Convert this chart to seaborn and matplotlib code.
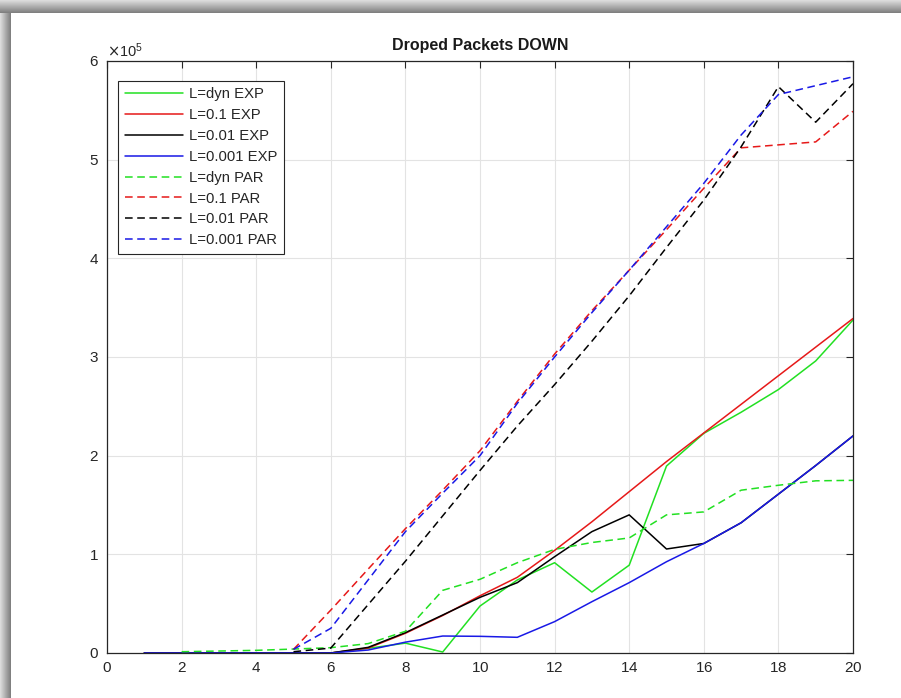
import numpy as np
import pandas as pd
import matplotlib
matplotlib.use("Agg")
import matplotlib.pyplot as plt
from matplotlib.patches import Rectangle
import seaborn as sns

# ---------------- data ----------------
x_exp = list(range(1, 21))
green_exp = [0, 0, 0, 0, 0, 0, 4700, 10000, 1000, 47600, 74000, 91500, 61800, 89000,
             189500, 222600, 244000, 267000, 296000, 337500]
red_exp = [0, 0, 0, 0, 0, 0, 5000, 20000, 38000, 58000, 76700, 104000, 133000, 163500,
           194000, 223000, 252000, 281000, 310000, 339000]
black_exp = [0, 0, 0, 0, 0, 0, 5700, 20600, 38500, 56400, 71300, 97600, 123000, 140000,
             105400, 111000, 132000, 161000, 190000, 220000]
blue_exp = [0, 0, 0, 0, 0, 0, 3000, 11000, 17200, 16900, 15900, 31800, 52000, 71300,
            92500, 111000, 132000, 161000, 190000, 220000]

x_green_par = list(range(2, 21))
green_par = [1300, 2000, 2700, 4000, 5400, 9500, 22000, 63500, 74700, 91500, 105000,
             112000, 116600, 140000, 143000, 165000, 170000, 174500, 175000]
x_par = list(range(5, 21))
red_par = [3700, 43500, 85000, 126000, 165000, 205000, 255000, 303000, 347000, 388000,
           429000, 471000, 512000, 515000, 518000, 549000]
black_par = [1300, 5000, 49000, 93000, 139000, 185000, 230000, 272000, 316000, 362000,
             411000, 459000, 513000, 574000, 538000, 577000]
blue_par = [3700, 25000, 74000, 123000, 162000, 200000, 253000, 300000, 345000, 388000,
            432000, 476000, 525000, 566000, 575000, 584000]

labels = ["L=dyn EXP", "L=0.1 EXP", "L=0.01 EXP", "L=0.001 EXP",
          "L=dyn PAR", "L=0.1 PAR", "L=0.01 PAR", "L=0.001 PAR"]
title = "Droped Packets DOWN"
x_ticks = [0, 2, 4, 6, 8, 10, 12, 14, 16, 18, 20]
y_ticks = [0, 100000, 200000, 300000, 400000, 500000, 600000]

# ---------------- style ----------------
sns.set_style("white")
plt.rcParams["font.family"] = ["Liberation Sans", "DejaVu Sans"]
plt.rcParams["axes.formatter.use_mathtext"] = True

W, H = 901, 698
fig = plt.figure(figsize=(W / 100, H / 100), dpi=100)
fig.patch.set_facecolor("white")

# window shadow frame (top and left)
top_h, left_w = 13, 11
for i in range(top_h):
    t = i / (top_h - 1)
    c = 0.86 - 0.36 * t
    fig.patches.append(Rectangle((0, 1 - (i + 1) / H), 1, 1 / H, transform=fig.transFigure,
                                 facecolor=(c, c, c), edgecolor="none", zorder=0))
for i in range(left_w):
    t = i / (left_w - 1)
    c = 0.86 - 0.36 * t
    fig.patches.append(Rectangle((i / W, 0), 1 / W, 1 - top_h / H, transform=fig.transFigure,
                                 facecolor=(c, c, c), edgecolor="none", zorder=0))

ax = fig.add_axes([107 / W, 45 / H, 746 / W, 592 / H])

series = [
    (x_exp, green_exp, "#22e022", "-", labels[0]),
    (x_exp, red_exp, "#e61919", "-", labels[1]),
    (x_exp, black_exp, "#000000", "-", labels[2]),
    (x_exp, blue_exp, "#1919e6", "-", labels[3]),
    (x_green_par, green_par, "#22e022", (0, (5, 3)), labels[4]),
    (x_par, red_par, "#e61919", (0, (5, 3)), labels[5]),
    (x_par, black_par, "#000000", (0, (5, 3)), labels[6]),
    (x_par, blue_par, "#1919e6", (0, (5, 3)), labels[7]),
]
for xs, ys, col, ls, lab in series:
    sns.lineplot(x=xs, y=ys, color=col, linestyle=ls, linewidth=1.1, label=lab, ax=ax)

ax.set_xlim(0, 20)
ax.set_ylim(0, 600000)
ax.set_xticks(x_ticks)
ax.set_yticks(y_ticks)
ax.ticklabel_format(axis="y", style="sci", scilimits=(0, 0), useMathText=True)
ax.yaxis.get_offset_text().set_fontsize(10.5)
ax.yaxis.get_offset_text().set_color("#262626")

ax.grid(True, color="#e3e3e3", linewidth=0.8)
ax.set_axisbelow(True)
for s in ax.spines.values():
    s.set_visible(True)
    s.set_color("#262626")
    s.set_linewidth(0.9)
ax.tick_params(direction="in", length=5, width=0.8, colors="#262626", labelsize=11,
               top=True, right=True, labeltop=False, labelright=False, pad=6)
ax.set_xlabel("")
ax.set_ylabel("")
ax.set_title(title, fontsize=11.5, fontweight="bold", color="#1a1a1a", pad=8)

leg = ax.legend(loc="upper left", bbox_to_anchor=(0.0147, 0.9667), borderaxespad=0,
                fontsize=10.7, frameon=True, fancybox=False, framealpha=1,
                edgecolor="#262626", handlelength=3.9, handletextpad=0.4,
                labelspacing=0.46, borderpad=0.45)
leg.get_frame().set_linewidth(0.8)

fig.savefig("out.png", dpi=100)
